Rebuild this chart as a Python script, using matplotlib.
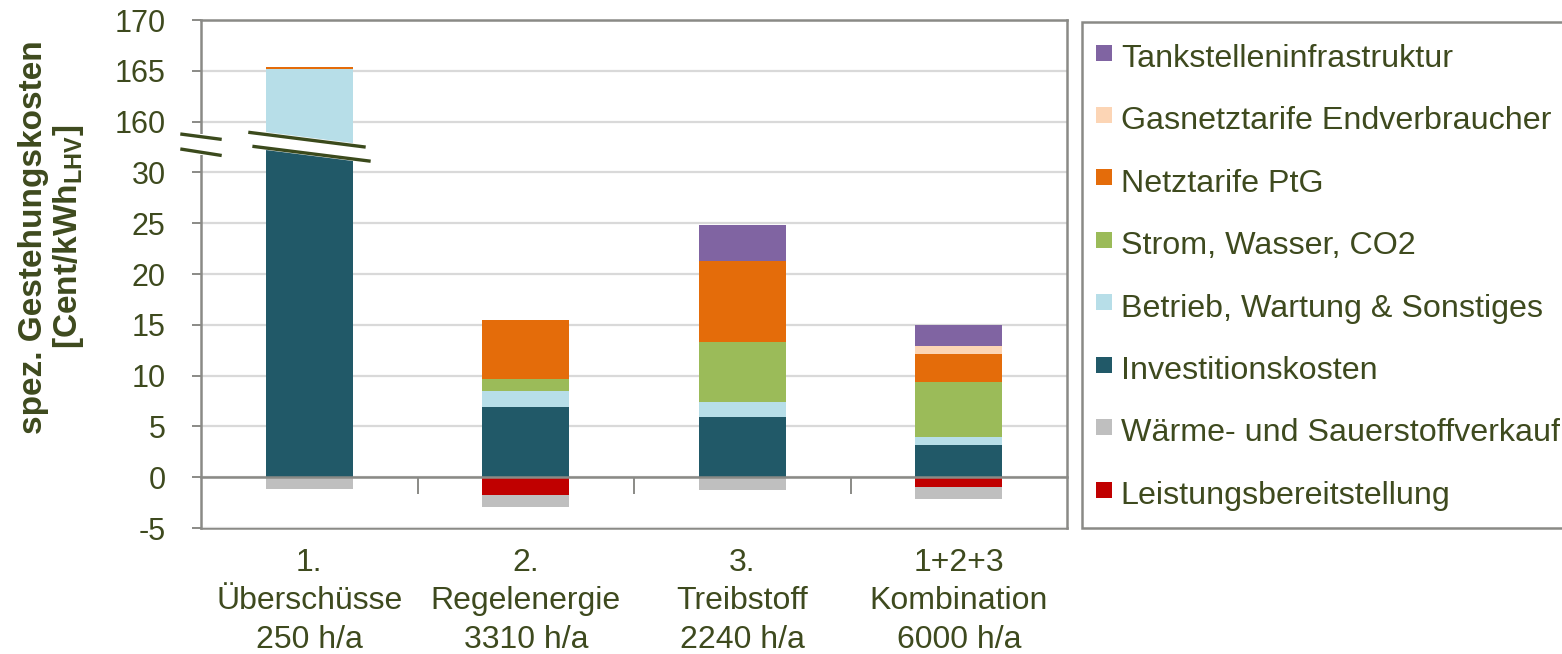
import numpy as np
import matplotlib
matplotlib.use("Agg")
import matplotlib.pyplot as plt
from matplotlib.patches import Polygon, Rectangle
from matplotlib.lines import Line2D
import matplotlib.transforms as mtransforms

plt.rcParams["font.family"] = ["Liberation Sans", "DejaVu Sans"]
plt.rcParams["axes.unicode_minus"] = False
plt.rcParams["mathtext.fontset"] = "custom"
plt.rcParams["mathtext.rm"] = "Liberation Sans"
plt.rcParams["mathtext.bf"] = "Liberation Sans:bold"

# ---- data (Cent/kWh_LHV) ----
categories = ["1.\nÜberschüsse\n250 h/a", "2.\nRegelenergie\n3310 h/a",
              "3.\nTreibstoff\n2240 h/a", "1+2+3\nKombination\n6000 h/a"]
investition = [150.0, 6.90, 5.97, 3.15]
betrieb = [15.2, 1.60, 1.41, 0.80]
strom_wasser_co2 = [0.0, 1.15, 5.92, 5.44]
netztarife_ptg = [0.15, 5.80, 8.00, 2.72]
gasnetztarife = [0.0, 0.0, 0.0, 0.76]
tankstellen = [0.0, 0.0, 3.50, 2.14]
leistung = [0.0, -1.75, 0.0, -0.92]
waerme_sauerstoff = [-1.20, -1.20, -1.25, -1.18]

ytick_values = [-5, 0, 5, 10, 15, 20, 25, 30, 160, 165, 170]

TEXT = "#3E4A1E"
GRID = "#D9D9D9"
AXIS = "#8A8A86"
BREAK = "#3B4A1C"

positive = [
    ("Investitionskosten", investition, "#215968"),
    ("Betrieb, Wartung & Sonstiges", betrieb, "#B7DEE8"),
    ("Strom, Wasser, CO2", strom_wasser_co2, "#9BBB59"),
    ("Netztarife PtG", netztarife_ptg, "#E46C0A"),
    ("Gasnetztarife Endverbraucher", gasnetztarife, "#FCD5B5"),
    ("Tankstelleninfrastruktur", tankstellen, "#8064A2"),
]
negative = [
    ("Leistungsbereitstellung", leistung, "#C00000"),
    ("Wärme- und Sauerstoffverkauf", waerme_sauerstoff, "#BFBFBF"),
]
legend_order = ["Tankstelleninfrastruktur", "Gasnetztarife Endverbraucher",
                "Netztarife PtG", "Strom, Wasser, CO2",
                "Betrieb, Wartung & Sonstiges", "Investitionskosten",
                "Wärme- und Sauerstoffverkauf", "Leistungsbereitstellung"]

# ---- broken value axis: [30, 157.5] is squeezed into 2.5 units ----
LOW, HIGH, SHIFT = 30.0, 157.5, 125.0
SQUEEZED = HIGH - SHIFT - LOW


def forward(v):
    v = np.asarray(v, dtype=float)
    mid = LOW + (v - LOW) * SQUEEZED / (HIGH - LOW)
    return np.where(v <= LOW, v, np.where(v >= HIGH, v - SHIFT, mid))


def inverse(d):
    d = np.asarray(d, dtype=float)
    mid = LOW + (d - LOW) * (HIGH - LOW) / SQUEEZED
    return np.where(d <= LOW, d, np.where(d >= HIGH - SHIFT, d + SHIFT, mid))


W, H = 1562, 654
fig = plt.figure(figsize=(W / 100, H / 100), dpi=100)
ax = fig.add_axes([201 / W, 1 - 528 / H, 866 / W, 508 / H])
ax.set_yscale("function", functions=(forward, inverse))

x = np.arange(len(categories))
bar_w = 0.4
colors = {}
bottom = np.zeros(len(x))
for name, vals, col in positive:
    vals = np.asarray(vals)
    ax.bar(x, vals, bar_w, bottom=bottom, color=col, linewidth=0, zorder=2)
    bottom = bottom + vals
    colors[name] = col
bottom = np.zeros(len(x))
for name, vals, col in negative:
    vals = np.asarray(vals)
    ax.bar(x, vals, bar_w, bottom=bottom, color=col, linewidth=0, zorder=2)
    bottom = bottom + vals
    colors[name] = col

ax.set_xlim(-0.5, len(x) - 0.5)
ax.set_ylim(ytick_values[0], ytick_values[-1])
ax.set_yticks(ytick_values)
ax.set_yticklabels([str(v) for v in ytick_values])
ax.yaxis.set_minor_locator(matplotlib.ticker.NullLocator())
ax.grid(axis="y", color=GRID, linewidth=1.6)
ax.set_axisbelow(True)

for side in ("left", "right", "top", "bottom"):
    ax.spines[side].set_color(AXIS)
    ax.spines[side].set_linewidth(1.8)
# zero line carries the category separator ticks
ax.spines["bottom"].set_position(("data", 0))
ax.spines["bottom"].set_zorder(3)
ax.set_xticks(x[:-1] + 0.5)
ax.set_xticklabels([])
ax.tick_params(axis="x", direction="out", length=12, width=1.4, color=AXIS)
ax.tick_params(axis="y", direction="out", length=6.5, width=1.4, color=AXIS,
               labelsize=22, labelcolor=TEXT, pad=19)

# category labels below the frame
sec = ax.secondary_xaxis("bottom")
sec.set_xticks(x)
sec.set_xticklabels(categories, linespacing=1.36)
sec.tick_params(length=0, pad=14.5, labelsize=23, labelcolor=TEXT)
sec.spines["bottom"].set_color(AXIS)
sec.spines["bottom"].set_linewidth(1.8)

# ---- break symbols (display units: axes fraction of the -5..45 span) ----
def frac(d):
    return (d + 5.0) / 50.0

tr = mtransforms.blended_transform_factory(ax.transData, ax.transAxes)
bx = x[0]
slope = -2.69
up_l = (bx - 0.274, 33.93)
up_r = (bx + 0.253, 33.93 + slope * 0.527)
lo_l = (bx - 0.255, 32.55)
lo_r = (bx + 0.276, 32.55 + slope * 0.531)


def line_y(p, xx):
    return p[1] + slope * (xx - p[0])


xl, xr = bx - bar_w / 2 - 0.01, bx + bar_w / 2 + 0.01
band = Polygon([(xl, frac(line_y(lo_l, xl) - 0.2)), (xr, frac(line_y(lo_l, xr) - 0.2)),
                (xr, frac(line_y(up_l, xr) + 0.23)), (xl, frac(line_y(up_l, xl) + 0.23))],
               closed=True, facecolor="white", edgecolor="none", transform=tr, zorder=4)
ax.add_patch(band)
for (xa, ya), (xb, yb) in ((up_l, up_r), (lo_l, lo_r)):
    ax.add_line(Line2D([xa, xb], [frac(ya), frac(yb)], color=BREAK,
                       linewidth=2.4, transform=tr, zorder=5, clip_on=False))

# break on the value axis
ax.add_patch(Rectangle((-0.008, frac(31.69)), 0.016, frac(33.76) - frac(31.69),
                       transform=ax.transAxes, facecolor="white",
                       edgecolor="none", zorder=4, clip_on=False))
for ya, yb in ((33.76, 33.27), (32.28, 31.69)):
    ax.add_line(Line2D([-0.022, 0.022], [frac(ya), frac(yb)], color=BREAK,
                       linewidth=2.4, transform=ax.transAxes, zorder=5, clip_on=False))

# ---- axis title ----
fig.text(52 / W, 1 - 237 / H,
         "spez. Gestehungskosten\n[Cent/kWh$_{\\mathbf{LHV}}$]",
         rotation=90, ha="center", va="center", multialignment="center",
         fontsize=24, fontweight="bold", color=TEXT, linespacing=1.1)

# ---- legend; its box runs past the right edge of the figure ----
box_left, box_top, box_bottom = 1081.7, 21.7, 527.5
fig.patches.append(Rectangle((box_left / W, 1 - box_bottom / H),
                             (1600 - box_left) / W, (box_bottom - box_top) / H,
                             transform=fig.transFigure, facecolor="white",
                             edgecolor=AXIS, linewidth=1.8, zorder=1))
handles = [Line2D([], [], linestyle="none", marker="s", markersize=11.2,
                  markerfacecolor=colors[n], markeredgewidth=0)
           for n in legend_order]
leg = fig.legend(handles, legend_order, loc="upper left",
                 bbox_to_anchor=(box_left / W, 1 - box_top / H),
                 bbox_transform=fig.transFigure, borderaxespad=0,
                 fontsize=23.2, labelcolor=TEXT, handlelength=0.335,
                 handleheight=1.3, handletextpad=0.36, borderpad=0.52,
                 labelspacing=0.84, frameon=False)

fig.savefig("out.png", dpi=100)
